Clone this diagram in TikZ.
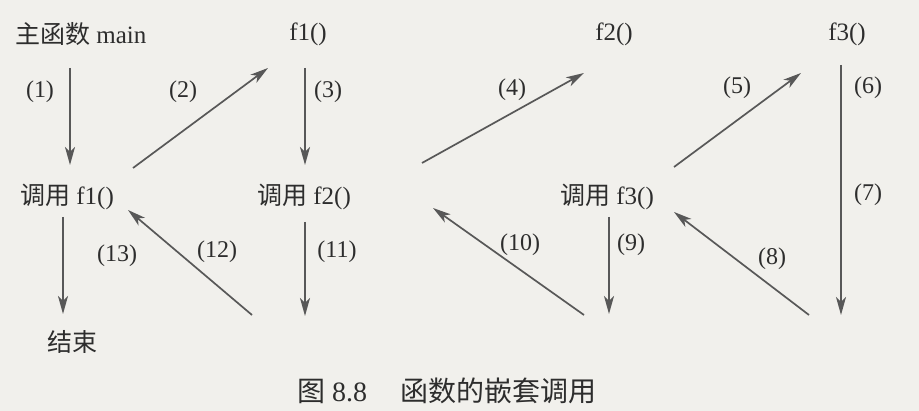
\documentclass[tikz,border=0pt]{standalone}
\usepackage{fontspec}
\setmainfont{Liberation Serif}
\newfontfamily\cjk{Noto Sans CJK SC}
\usetikzlibrary{arrows.meta}

\definecolor{paper}{RGB}{241,240,236}
\definecolor{ink}{RGB}{45,45,45}
\definecolor{arrowgray}{RGB}{88,88,88}

\begin{document}
\begin{tikzpicture}[
                x=1pt, y=-1pt,
                txt/.style={inner sep=0pt, text=ink, font=\fontsize{25}{30}\selectfont},
                num/.style={inner sep=0pt, text=ink, font=\fontsize{24}{28}\selectfont},
                call/.style={-{Stealth[length=18pt, width=10pt, inset=5pt]}, draw=arrowgray, line width=1.7pt}
            ]
                \useasboundingbox[fill=paper] (0,0) rectangle (919,411);

                % functions and calls
                \node[txt, anchor=west] (main) at (15,34) {{\cjk 主函数} main};
                \node[txt] (f1) at (308,34) {f1()};
                \node[txt] (f2) at (614,34) {f2()};
                \node[txt] (f3) at (847,34) {f3()};
                \node[txt] (callf1) at (67,197) {{\cjk 调用} f1()};
                \node[txt] (callf2) at (304,197) {{\cjk 调用} f2()};
                \node[txt] (callf3) at (607,197) {{\cjk 调用} f3()};
                \node[txt] (finish) at (72,342) {\cjk 结束};
                \node[txt, anchor=west, font=\fontsize{28}{32}\selectfont] (caption) at (297,391) {{\cjk 图} 8.8\hspace{1.2em}{\cjk 函数的嵌套调用}};

                % arrow ends
                \coordinate (s1) at (70,68);   \coordinate (e1) at (70,165);
                \coordinate (s2) at (133,168); \coordinate (e2) at (268,68);
                \coordinate (s3) at (305,68);  \coordinate (e3) at (305,165);
                \coordinate (s4) at (422,163); \coordinate (e4) at (584,73);
                \coordinate (s5) at (674,167); \coordinate (e5) at (801,73);
                \coordinate (s6) at (841,65);  \coordinate (e6) at (841,315);
                \coordinate (s8) at (809,315); \coordinate (e8) at (674,212);
                \coordinate (s9) at (609,217); \coordinate (e9) at (609,314);
                \coordinate (s10) at (584,315); \coordinate (e10) at (433,208);
                \coordinate (s11) at (305,222); \coordinate (e11) at (305,316);
                \coordinate (s12) at (252,315); \coordinate (e12) at (128,210);
                \coordinate (s13) at (63,217);  \coordinate (e13) at (63,314);

                \draw[call] (s1) -- (e1);
                \draw[call] (s2) -- (e2);
                \draw[call] (s3) -- (e3);
                \draw[call] (s4) -- (e4);
                \draw[call] (s5) -- (e5);
                \draw[call] (s6) -- (e6);
                \draw[call] (s8) -- (e8);
                \draw[call] (s9) -- (e9);
                \draw[call] (s10) -- (e10);
                \draw[call] (s11) -- (e11);
                \draw[call] (s12) -- (e12);
                \draw[call] (s13) -- (e13);

                % step numbers
                \node[num] (n1) at (40,92) {(1)};
                \node[num] (n2) at (183,92) {(2)};
                \node[num] (n3) at (328,92) {(3)};
                \node[num] (n4) at (512,90) {(4)};
                \node[num] (n5) at (737,88) {(5)};
                \node[num] (n6) at (868,88) {(6)};
                \node[num] (n7) at (868,195) {(7)};
                \node[num] (n8) at (772,259) {(8)};
                \node[num] (n9) at (631,245) {(9)};
                \node[num] (n10) at (520,245) {(10)};
                \node[num] (n11) at (337,252) {(11)};
                \node[num] (n12) at (217,252) {(12)};
                \node[num] (n13) at (117,256) {(13)};
            \end{tikzpicture}
\end{document}
